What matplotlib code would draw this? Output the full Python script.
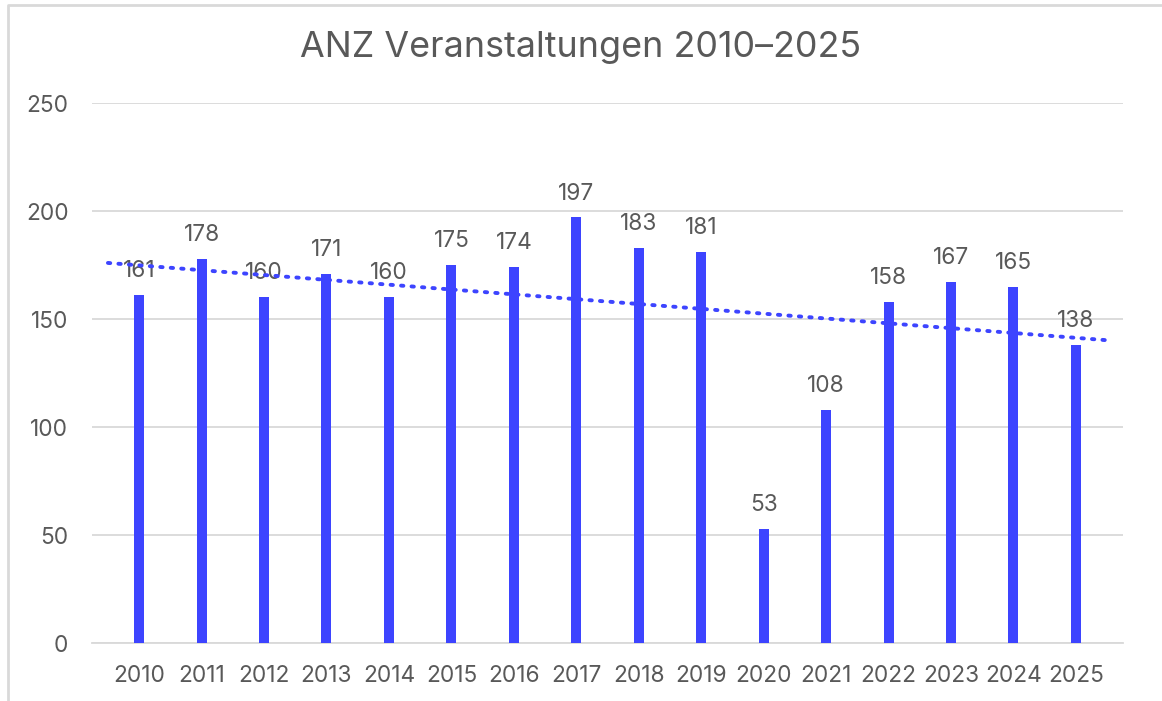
import matplotlib
matplotlib.use("Agg")
import matplotlib.pyplot as plt
from matplotlib.lines import Line2D
import numpy as np

years = ["2010", "2011", "2012", "2013", "2014", "2015", "2016", "2017",
         "2018", "2019", "2020", "2021", "2022", "2023", "2024", "2025"]
events = [161, 178, 160, 171, 160, 175, 174, 197, 183, 181, 53, 108, 158, 167, 165, 138]
title = "ANZ Veranstaltungen 2010–2025"

BAR = "#3D44FF"
TXT = "#595959"
GRID = "#D9D9D9"

plt.rcParams['font.family'] = ['Inter', 'DejaVu Sans']

W, H = 1162, 701
fig = plt.figure(figsize=(W / 100, H / 100), dpi=100)
ax = fig.add_axes([92 / W, (H - 643) / H, (1123 - 92) / W, (643 - 103) / H])

x = np.arange(len(years))
ax.bar(x, events, width=0.16, color=BAR, zorder=3)

for xi, v in zip(x, events):
    ax.text(xi, v + 6, str(v), ha="center", va="bottom", fontsize=16.3, color=TXT, zorder=4)

# linear trendline
slope, intercept = np.polyfit(x, events, 1)
tx = np.array([-0.5, len(years) - 0.5])
ax.plot(tx, slope * tx + intercept, linestyle=(0, (0.6, 2.1)), color=BAR,
        linewidth=2.8, dash_capstyle="round", zorder=5)

ax.set_ylim(0, 250)
ax.set_yticks([0, 50, 100, 150, 200, 250])
ax.set_xlim(-0.755, len(years) - 1 + 0.755)
ax.set_xticks(x)
ax.set_xticklabels(years)
ax.tick_params(axis="both", length=0, labelsize=16.3, labelcolor=TXT)
ax.tick_params(axis="y", pad=17)
ax.tick_params(axis="x", pad=16)
ax.grid(axis="y", color=GRID, linewidth=1.3, zorder=0)
for s in ["top", "right", "left"]:
    ax.spines[s].set_visible(False)
ax.spines["bottom"].set_color(GRID)
ax.spines["bottom"].set_linewidth(1.3)

fig.text(0.5, 1 - 47 / H, title, ha="center", va="center", fontsize=25.8, color=TXT)

# chart border (top and left)
bx = 7.5 / W
by = 1 - 5 / H
fig.add_artist(Line2D([bx, bx, 1.0], [0.0, by, by], transform=fig.transFigure,
                      color=GRID, linewidth=2))

fig.savefig("out.png", dpi=100)
